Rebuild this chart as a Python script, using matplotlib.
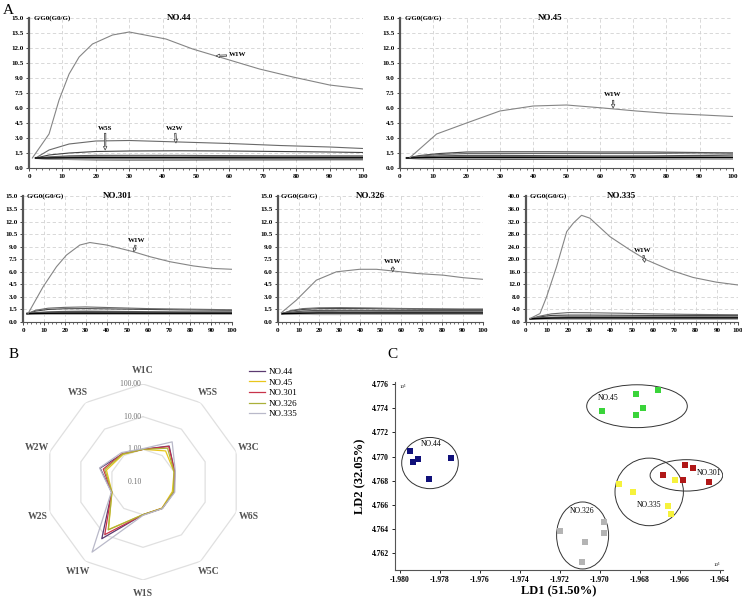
import matplotlib.pyplot as plt
import numpy as np
from matplotlib.patches import Ellipse
from matplotlib.lines import Line2D

plt.rcParams['font.family'] = ['Liberation Serif', 'DejaVu Serif']

# ============================================================
# DATA
# ============================================================
sensors = ['W1C', 'W5S', 'W3C', 'W6S', 'W5C', 'W1S', 'W1W', 'W2S', 'W2W', 'W3S']
t_low = [2, 6, 12, 20, 30, 45, 60, 75, 90, 100]

# W1W response curves (time s, G/G0)
t_44 = [1, 6, 9, 12, 15, 19, 25, 30, 41, 49, 59, 69, 79, 90, 100]
w1w_44 = [1.0, 3.4, 6.8, 9.4, 11.1, 12.4, 13.3, 13.6, 12.9, 11.9, 10.9, 9.9, 9.1, 8.3, 7.9]
t_45 = [3, 11, 20, 30, 40, 50, 61, 71, 81, 91, 100]
w1w_45 = [1.05, 3.4, 4.5, 5.7, 6.2, 6.3, 6.0, 5.7, 5.45, 5.3, 5.15]
t_301 = [2.4, 9.6, 16, 20.8, 27.2, 32, 40, 52.8, 60.8, 70.4, 81.6, 91.2, 100]
w1w_301 = [1.0, 4.2, 6.6, 8.0, 9.2, 9.5, 9.2, 8.4, 7.8, 7.2, 6.7, 6.4, 6.3]
t_326 = [1.6, 8.9, 18.7, 28.5, 39.8, 48, 56, 67.5, 80.5, 90.2, 100]
w1w_326 = [1.1, 2.6, 5.0, 6.0, 6.3, 6.3, 6.1, 5.8, 5.6, 5.3, 5.1]
t_335 = [1.9, 6.6, 9.7, 14.4, 19.2, 22.3, 26.2, 30.1, 39.6, 49, 56.8, 67.8, 78.8, 89.8, 100]
w1w_335 = [1.1, 2.7, 8.0, 17.6, 28.8, 31.5, 34.0, 33.1, 27.2, 23.0, 19.8, 16.6, 14.2, 12.7, 11.8]

# other sensors, sampled at t_low
low_44 = {
    'W1C': [1.0, 0.92, 0.88, 0.85, 0.84, 0.84, 0.85, 0.85, 0.86, 0.86],
    'W5S': [1.0, 1.3, 1.5, 1.65, 1.7, 1.72, 1.7, 1.65, 1.6, 1.55],
    'W3C': [1.0, 0.95, 0.93, 0.92, 0.92, 0.93, 0.94, 0.94, 0.95, 0.95],
    'W6S': [1.0, 1.02, 1.03, 1.05, 1.05, 1.05, 1.05, 1.05, 1.05, 1.05],
    'W5C': [1.0, 0.96, 0.95, 0.95, 0.95, 0.96, 0.97, 0.97, 0.98, 0.98],
    'W1S': [1.0, 1.1, 1.2, 1.25, 1.25, 1.25, 1.22, 1.2, 1.2, 1.2],
    'W2S': [1.0, 1.05, 1.12, 1.18, 1.2, 1.2, 1.15, 1.12, 1.1, 1.1],
    'W2W': [1.0, 1.8, 2.4, 2.7, 2.75, 2.6, 2.45, 2.25, 2.1, 1.95],
    'W3S': [1.0, 1.0, 1.02, 1.03, 1.03, 1.03, 1.02, 1.02, 1.02, 1.02],
}
low_45 = {
    'W1C': [1.0, 0.95, 0.92, 0.9, 0.88, 0.9, 0.92, 0.93, 0.95, 0.95],
    'W5S': [1.0, 1.25, 1.45, 1.6, 1.62, 1.62, 1.6, 1.6, 1.55, 1.5],
    'W3C': [1.0, 0.98, 0.97, 0.97, 0.95, 0.97, 0.98, 0.98, 0.98, 0.98],
    'W6S': [1.0, 1.01, 1.02, 1.02, 1.02, 1.02, 1.02, 1.02, 1.02, 1.02],
    'W5C': [1.0, 0.99, 0.99, 0.99, 0.99, 0.99, 0.99, 0.99, 0.99, 0.99],
    'W1S': [1.0, 1.1, 1.2, 1.25, 1.25, 1.22, 1.2, 1.2, 1.25, 1.3],
    'W2S': [1.0, 1.05, 1.1, 1.15, 1.15, 1.12, 1.1, 1.1, 1.1, 1.1],
    'W2W': [1.0, 1.2, 1.35, 1.45, 1.45, 1.45, 1.45, 1.45, 1.5, 1.5],
    'W3S': [1.0, 1.03, 1.05, 1.05, 1.05, 1.05, 1.05, 1.05, 1.05, 1.05],
}
low_301 = {
    'W1C': [1.0, 0.97, 0.95, 0.94, 0.94, 0.95, 0.96, 0.96, 0.97, 0.97],
    'W5S': [1.0, 1.3, 1.5, 1.58, 1.6, 1.55, 1.5, 1.45, 1.42, 1.4],
    'W3C': [1.0, 0.99, 0.98, 0.98, 0.98, 0.98, 0.99, 0.99, 0.99, 0.99],
    'W6S': [1.0, 1.01, 1.02, 1.02, 1.02, 1.02, 1.02, 1.02, 1.02, 1.02],
    'W5C': [1.0, 0.99, 0.99, 0.99, 0.99, 0.99, 1.0, 1.0, 1.0, 1.0],
    'W1S': [1.0, 1.1, 1.2, 1.25, 1.28, 1.25, 1.22, 1.2, 1.2, 1.2],
    'W2S': [1.0, 1.04, 1.08, 1.1, 1.12, 1.1, 1.08, 1.08, 1.08, 1.08],
    'W2W': [1.0, 1.4, 1.65, 1.75, 1.8, 1.7, 1.6, 1.55, 1.5, 1.45],
    'W3S': [1.0, 1.02, 1.04, 1.05, 1.05, 1.05, 1.05, 1.05, 1.05, 1.05],
}
low_326 = {
    'W1C': [1.0, 0.96, 0.94, 0.93, 0.93, 0.94, 0.95, 0.95, 0.96, 0.96],
    'W5S': [1.0, 1.3, 1.5, 1.6, 1.62, 1.6, 1.55, 1.52, 1.5, 1.5],
    'W3C': [1.0, 0.99, 0.98, 0.98, 0.98, 0.98, 0.99, 0.99, 0.99, 0.99],
    'W6S': [1.0, 1.01, 1.02, 1.02, 1.02, 1.02, 1.02, 1.02, 1.02, 1.02],
    'W5C': [1.0, 0.99, 0.99, 0.99, 0.99, 1.0, 1.0, 1.0, 1.0, 1.0],
    'W1S': [1.0, 1.15, 1.3, 1.38, 1.4, 1.38, 1.35, 1.35, 1.35, 1.35],
    'W2S': [1.0, 1.08, 1.18, 1.25, 1.28, 1.28, 1.25, 1.25, 1.25, 1.25],
    'W2W': [1.0, 1.35, 1.6, 1.7, 1.72, 1.68, 1.62, 1.58, 1.55, 1.55],
    'W3S': [1.0, 1.02, 1.05, 1.08, 1.08, 1.08, 1.08, 1.08, 1.08, 1.08],
}
low_335 = {
    'W1C': [1.0, 1.0, 1.02, 1.03, 1.03, 1.03, 1.03, 1.03, 1.03, 1.03],
    'W5S': [1.0, 1.6, 2.1, 2.2, 2.2, 2.15, 2.1, 2.1, 2.1, 2.1],
    'W3C': [1.0, 1.05, 1.1, 1.12, 1.12, 1.12, 1.1, 1.1, 1.1, 1.1],
    'W6S': [1.0, 1.1, 1.2, 1.3, 1.3, 1.3, 1.3, 1.3, 1.3, 1.3],
    'W5C': [1.0, 1.02, 1.05, 1.07, 1.07, 1.07, 1.07, 1.07, 1.07, 1.07],
    'W1S': [1.0, 1.3, 1.5, 1.6, 1.6, 1.6, 1.6, 1.6, 1.6, 1.6],
    'W2S': [1.0, 1.2, 1.4, 1.5, 1.5, 1.5, 1.5, 1.5, 1.5, 1.5],
    'W2W': [1.0, 1.8, 2.6, 3.0, 2.95, 2.8, 2.6, 2.45, 2.35, 2.3],
    'W3S': [1.0, 1.1, 1.25, 1.3, 1.3, 1.3, 1.3, 1.3, 1.3, 1.3],
}

# radar: maximum responses
samples = ['NO.44', 'NO.45', 'NO.301', 'NO.326', 'NO.335']
radar_44 = [1.0, 2.3, 1.05, 1.0, 1.0, 1.0, 14.0, 1.02, 2.4, 1.15]
radar_45 = [1.0, 1.5, 1.0, 0.88, 0.97, 1.0, 6.3, 1.0, 1.5, 1.1]
radar_301 = [1.0, 2.2, 1.05, 0.98, 1.0, 1.02, 9.8, 1.02, 1.9, 1.2]
radar_326 = [1.0, 1.9, 1.0, 0.95, 1.0, 1.0, 6.5, 1.0, 1.7, 1.15]
radar_335 = [1.05, 3.3, 1.1, 1.05, 1.02, 1.05, 45.0, 1.05, 2.5, 1.3]

# LDA scores
ld1_44 = [-1.97950, -1.97937, -1.97908, -1.97855, -1.97747]
ld2_44 = [4.77048, 4.76957, 4.76977, 4.76810, 4.76985]
ld1_45 = [-1.96992, -1.96820, -1.96783, -1.96820, -1.96710]
ld2_45 = [4.77376, 4.77521, 4.77403, 4.77343, 4.77554]
ld1_301 = [-1.96687, -1.96575, -1.96533, -1.96585, -1.96455]
ld2_301 = [4.76843, 4.76930, 4.76903, 4.76802, 4.76793]
ld1_335 = [-1.96903, -1.96833, -1.96623, -1.96662, -1.96645]
ld2_335 = [4.76769, 4.76703, 4.76802, 4.76591, 4.76523]
ld1_326 = [-1.97200, -1.97073, -1.96978, -1.96980, -1.97092]
ld2_326 = [4.76383, 4.76296, 4.76454, 4.76364, 4.76126]

# ============================================================
# FIGURE
# ============================================================
W, H = 742, 601
fig = plt.figure(figsize=(W / 100, H / 100), dpi=100)


def rect(x0, y0, x1, y1):
    # pixel box -> figure fraction
    return [x0 / W, 1 - y1 / H, (x1 - x0) / W, (y1 - y0) / H]


low_style = {
    'W1C': ('#111111', 1.2), 'W5S': ('#444444', 0.8), 'W3C': ('#9a9a9a', 1.4),
    'W6S': ('#2a2a2a', 1.0), 'W5C': ('#bdbdbd', 1.6), 'W1S': ('#555555', 1.0),
    'W2S': ('#777777', 0.9), 'W2W': ('#6a6a6a', 0.8), 'W3S': ('#000000', 1.0),
}
arrow = dict(arrowstyle='simple,head_width=0.5,head_length=0.5,tail_width=0.2',
             fc='white', ec='#333333', lw=0.5, shrinkA=0, shrinkB=0)


def line_panel(box, title, t_main, main, low, ymax, ystep):
    ax = fig.add_axes(rect(*box))
    for s, vals in low.items():
        c, lw = low_style[s]
        ax.plot(t_low, vals, color=c, lw=lw)
    ax.plot(t_main, main, color='#858585', lw=0.8)
    ax.set_xlim(0, 100)
    ax.set_ylim(0, ymax)
    ax.set_xticks(np.arange(0, 101, 10))
    ax.set_xticks(np.arange(0, 101, 2), minor=True)
    ax.set_yticks(np.arange(0, ymax + 0.01, ystep))
    ax.yaxis.set_major_formatter(plt.FormatStrFormatter('%.1f'))
    ax.grid(True, ls=(0, (4, 3)), color='#d2d2d2', lw=0.6)
    for sp in ['top', 'right']:
        ax.spines[sp].set_visible(False)
    ax.spines['left'].set_linewidth(1.6)
    ax.spines['left'].set_color('#555555')
    ax.spines['bottom'].set_color('#555555')
    ax.tick_params(labelsize=5, length=2, width=0.5, pad=2)
    ax.tick_params(which='minor', length=1.2, width=0.4)
    for lab in ax.get_xticklabels() + ax.get_yticklabels():
        lab.set_fontweight('bold')
    ax.text(0.45, 1.0, title, transform=ax.transAxes, ha='center', va='center',
            fontsize=6.5, fontweight='bold')
    ax.text(0.015, 1.0, 'G/G0(G0/G)', transform=ax.transAxes, ha='left', va='center',
            fontsize=5, fontweight='bold')
    return ax


ax44 = line_panel((29, 18, 363, 168), 'NO.44', t_44, w1w_44, low_44, 15, 1.5)
ax44.annotate('W1W', xy=(56, 11.2), xytext=(60, 11.3), ha='left', va='center',
              fontsize=5, fontweight='bold', arrowprops=arrow)
ax44.annotate('W5S', xy=(22.8, 1.8), xytext=(22.8, 4.0), ha='center', va='center',
              fontsize=5, fontweight='bold', arrowprops=arrow)
ax44.annotate('W2W', xy=(44, 2.5), xytext=(43.7, 4.0), ha='center', va='center',
              fontsize=5, fontweight='bold', arrowprops=arrow)

ax45 = line_panel((400, 18, 733, 168), 'NO.45', t_45, w1w_45, low_45, 15, 1.5)
ax45.annotate('W1W', xy=(64, 6.0), xytext=(64, 7.3), ha='center', va='center',
              fontsize=5, fontweight='bold', arrowprops=arrow)

ax301 = line_panel((23, 196.5, 232, 322), 'NO.301', t_301, w1w_301, low_301, 15, 1.5)
ax301.annotate('W1W', xy=(53, 8.4), xytext=(54.5, 9.8), ha='center', va='center',
               fontsize=5, fontweight='bold', arrowprops=arrow)

ax326 = line_panel((278, 196.5, 483, 322), 'NO.326', t_326, w1w_326, low_326, 15, 1.5)
ax326.annotate('W1W', xy=(56, 6.0), xytext=(56, 7.2), ha='center', va='center',
               fontsize=5, fontweight='bold', arrowprops=arrow)

ax335 = line_panel((526, 196.5, 738, 322), 'NO.335', t_335, w1w_335, low_335, 40, 4)
ax335.annotate('W1W', xy=(56, 19.0), xytext=(55, 22.9), ha='center', va='center',
               fontsize=5, fontweight='bold', arrowprops=arrow)

# ============================================================
# B - radar (log scale, 0.1 .. 100)
# ============================================================
axr = fig.add_axes(rect(45, 384, 241, 580), projection='polar')
axr.set_theta_zero_location('N')
axr.set_theta_direction(-1)
axr.set_ylim(0, 3)
axr.grid(False)
axr.set_xticks([])
axr.set_yticks([])
axr.spines['polar'].set_visible(False)
axr.patch.set_alpha(0)

theta = np.linspace(0, 2 * np.pi, len(sensors), endpoint=False)
theta_c = np.append(theta, theta[0])
for ring in [1, 2, 3]:
    axr.plot(theta_c, np.full(len(theta_c), ring), color='#e0e0e0', lw=0.9, zorder=1)
for ring, lab in zip([0, 1, 2, 3], ['0.10', '1.00', '10.00', '100.00']):
    axr.text(0, ring, lab + ' ', ha='right', va='center', fontsize=5.5, color='#707070')
for th, s in zip(theta, sensors):
    axr.text(th, 3.4, s, ha='center', va='center', fontsize=7, fontweight='bold',
             color='#505050', clip_on=False)

radar_colors = ['#5b3a70', '#e8c61c', '#c8334a', '#aab03a', '#b9b9c9']
handles = []
for vals, c, name in zip([radar_44, radar_45, radar_301, radar_326, radar_335],
                         radar_colors, samples):
    r = np.log10(np.array(vals)) + 1
    axr.plot(theta_c, np.append(r, r[0]), color=c, lw=0.9, zorder=3)
    handles.append(Line2D([], [], color=c, lw=0.9, label=name))

fig.legend(handles=handles, loc='upper left', bbox_to_anchor=(245 / W, 1 - 364 / H),
           frameon=False, fontsize=6.5, handlelength=1.8, handletextpad=0.4,
           labelspacing=0.25, borderaxespad=0)

# ============================================================
# C - LDA
# ============================================================
axc = fig.add_axes(rect(395, 381.7, 723, 570))
groups = [
    ('NO.44', ld1_44, ld2_44, '#10107a', (-1.9785, 4.76946, 2.83e-3, 4.24e-3), (-1.97842, 4.77108)),
    ('NO.45', ld1_45, ld2_45, '#3ad43a', (-1.96815, 4.77417, 5.03e-3, 3.55e-3), (-1.96958, 4.77485)),
    ('NO.301', ld1_301, ld2_301, '#b01818', (-1.96568, 4.76844, 3.63e-3, 2.60e-3), (-1.96453, 4.76864)),
    ('NO.335', ld1_335, ld2_335, '#f6f23c', (-1.96754, 4.76707, 3.42e-3, 5.60e-3), (-1.96753, 4.76602)),
    ('NO.326', ld1_326, ld2_326, '#b4b4b4', (-1.97087, 4.76346, 2.60e-3, 5.55e-3), (-1.97092, 4.76550)),
]
for name, xs, ys, c, (ex, ey, ew, eh), (lx, ly) in groups:
    axc.scatter(xs, ys, marker='s', s=16, color=c, linewidths=0, zorder=3)
    axc.add_patch(Ellipse((ex, ey), ew, eh, fill=False, ec='#333333', lw=0.7))
    axc.text(lx, ly, name, ha='center', va='center', fontsize=5.5)

axc.set_xlim(-1.98025, -1.96385)
axc.set_ylim(4.7606, 4.7762)
axc.set_xticks(np.arange(-1.980, -1.9639, 0.002))
axc.set_yticks(np.arange(4.762, 4.7761, 0.002))
axc.xaxis.set_major_formatter(plt.FormatStrFormatter('%.3f'))
axc.yaxis.set_major_formatter(plt.FormatStrFormatter('%.3f'))
for sp in ['top', 'right']:
    axc.spines[sp].set_visible(False)
axc.spines['left'].set_color('#555555')
axc.spines['bottom'].set_color('#555555')
axc.tick_params(labelsize=5.5, length=2.5, width=0.6, pad=2)
for lab in axc.get_xticklabels() + axc.get_yticklabels():
    lab.set_fontweight('bold')
axc.set_xlabel('LD1 (51.50%)', fontsize=9, fontweight='bold', labelpad=1)
axc.set_ylabel('LD2 (32.05%)', fontsize=9, fontweight='bold', labelpad=4)
axc.text(0.015, 0.985, '10³', transform=axc.transAxes, fontsize=3.5, va='top')
axc.text(0.99, 0.02, '10³', transform=axc.transAxes, fontsize=3.5, ha='right')

# panel letters
fig.text(3 / W, 1 - 10 / H, 'A', fontsize=11, va='center')
fig.text(9 / W, 1 - 355 / H, 'B', fontsize=11, va='center')
fig.text(387 / W, 1 - 355 / H, 'C', fontsize=11, va='center')

fig.savefig('out.png', dpi=100)
